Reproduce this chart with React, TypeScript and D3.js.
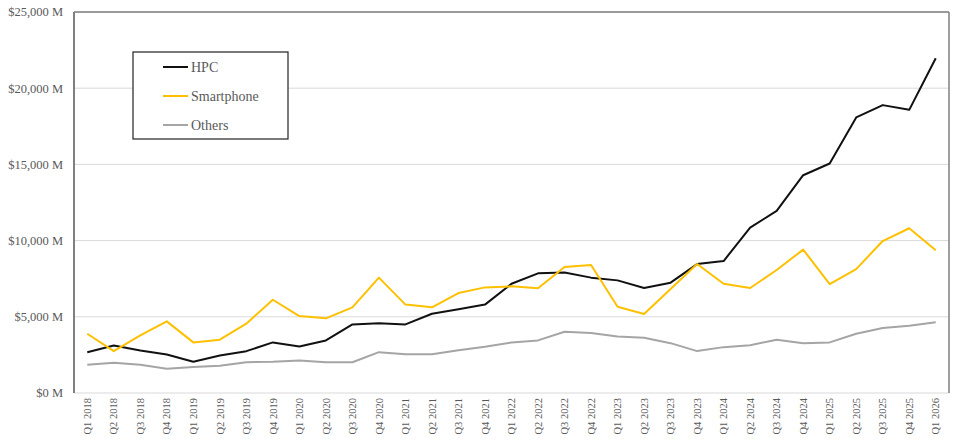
import React from "react";
import * as d3 from "d3";

const categories = [
  "Q1 2018","Q2 2018","Q3 2018","Q4 2018",
  "Q1 2019","Q2 2019","Q3 2019","Q4 2019",
  "Q1 2020","Q2 2020","Q3 2020","Q4 2020",
  "Q1 2021","Q2 2021","Q3 2021","Q4 2021",
  "Q1 2022","Q2 2022","Q3 2022","Q4 2022",
  "Q1 2023","Q2 2023","Q3 2023","Q4 2023",
  "Q1 2024","Q2 2024","Q3 2024","Q4 2024",
  "Q1 2025","Q2 2025","Q3 2025","Q4 2025",
  "Q1 2026",
];

const hpc = [
  2680, 3120, 2790, 2530,
  2050, 2460, 2745, 3320,
  3055, 3450, 4500, 4570,
  4500, 5200, 5500, 5800,
  7170, 7850, 7900, 7570,
  7390, 6890, 7240, 8460,
  8660, 10850, 11950, 14290,
  15060, 18080, 18890, 18580,
  21960,
];

const smartphone = [
  3890, 2745, 3780, 4700,
  3320, 3500, 4550, 6120,
  5050, 4900, 5620, 7570,
  5800, 5620, 6560, 6930,
  7000, 6870, 8270, 8400,
  5660, 5180, 6820, 8460,
  7170, 6890, 8070, 9410,
  7150, 8130, 9970, 10810,
  9360,
];

const others = [
  1850, 1980, 1850, 1590,
  1700, 1790, 2020, 2050,
  2135, 2020, 2020, 2680,
  2550, 2550, 2810, 3035,
  3320, 3450, 4020, 3930,
  3710, 3630, 3270, 2750,
  3010, 3140, 3500, 3270,
  3320, 3890, 4260, 4420,
  4650,
];

const yTicks = [0, 5000, 10000, 15000, 20000, 25000];

const seriesNames = ["HPC", "Smartphone", "Others"];
const seriesColors = ["#111111", "#FFC000", "#A5A5A5"];

const W = 960;
const H = 442;
const margin = { left: 74, right: 11, top: 12, bottom: 49 };
const FONT = "'Liberation Serif', 'Times New Roman', serif";
const TEXT = "#595959";

export default function App() {
  const x = d3
    .scaleBand<string>()
    .domain(categories)
    .range([margin.left, W - margin.right]);
  const y = d3
    .scaleLinear()
    .domain([0, 25000])
    .range([H - margin.bottom, margin.top]);

  const cx = (c: string) => (x(c) as number) + x.bandwidth() / 2;
  const line = d3
    .line<number>()
    .x((_, i) => cx(categories[i]))
    .y((v) => y(v));

  const allSeries = [hpc, smartphone, others];
  const fmt = d3.format(",");

  const legX = 133, legY = 52, legW = 155, legH = 87;

  return (
    <svg
      width={W}
      height={H}
      style={{ position: "absolute", left: 0, top: 0, background: "#fff" }}
      fontFamily={FONT}
    >
      {yTicks.map((t) => (
        <line
          key={t}
          x1={margin.left}
          x2={W - margin.right}
          y1={y(t)}
          y2={y(t)}
          stroke="#D9D9D9"
          strokeWidth={1}
        />
      ))}
      {yTicks.map((t) => (
        <text
          key={"l" + t}
          x={margin.left - 11}
          y={y(t)}
          dy="0.35em"
          textAnchor="end"
          fontSize={12.5}
          fill={TEXT}
        >
          {"$" + fmt(t) + " M"}
        </text>
      ))}
      {categories.map((c) => (
        <text
          key={c}
          transform={`translate(${cx(c)},${H - margin.bottom + 5}) rotate(-90)`}
          textAnchor="end"
          dy="0.35em"
          fontSize={10.5}
          fill={TEXT}
        >
          {c}
        </text>
      ))}
      <line
        x1={margin.left}
        x2={W - margin.right}
        y1={margin.top}
        y2={margin.top}
        stroke="#7F7F7F"
        strokeWidth={1.5}
      />
      <line
        x1={W - margin.right}
        x2={W - margin.right}
        y1={margin.top}
        y2={H - margin.bottom}
        stroke="#7F7F7F"
        strokeWidth={1.5}
      />
      <line
        x1={margin.left}
        x2={margin.left}
        y1={margin.top}
        y2={H - margin.bottom}
        stroke="#7F7F7F"
        strokeWidth={2}
      />
      {allSeries.map((s, i) => (
        <path
          key={seriesNames[i]}
          d={line(s) || ""}
          fill="none"
          stroke={seriesColors[i]}
          strokeWidth={2}
          strokeLinejoin="round"
        />
      ))}
      <rect
        x={legX}
        y={legY}
        width={legW}
        height={legH}
        fill="#fff"
        stroke="#222"
        strokeWidth={1.2}
      />
      {seriesNames.map((n, i) => (
        <g key={n} transform={`translate(${legX + 30},${legY + 15 + i * 29})`}>
          <line x1={0} x2={25} y1={0} y2={0} stroke={seriesColors[i]} strokeWidth={2} />
          <text x={28} y={0} dy="0.35em" fontSize={14} fill={TEXT}>
            {n}
          </text>
        </g>
      ))}
    </svg>
  );
}
